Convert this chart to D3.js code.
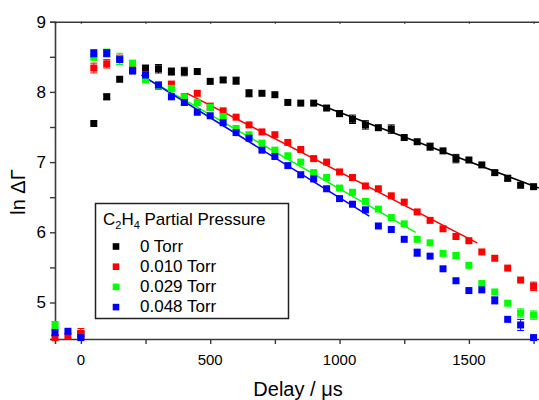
<!DOCTYPE html>
<html>
<head>
<meta charset="utf-8">
<script src="https://cdn.jsdelivr.net/npm/d3@7"></script>
<style>
  body { margin: 0; background: #fff; }
  #chart { width: 539px; height: 400px; }
  text { font-family: "Liberation Sans", Arial, sans-serif; fill: #000; }
</style>
</head>
<body>
<div id="chart"></div>
<script>

const delays = [-100, -50, 0, 50, 100, 150, 200, 250, 300, 350, 400, 450, 500, 550, 600,
  650, 700, 750, 800, 850, 900, 950, 1000, 1050, 1100, 1150, 1200, 1250, 1300, 1350,
  1400, 1450, 1500, 1550, 1600, 1650, 1700, 1750];

const seriesNames = ['0 Torr', '0.010 Torr', '0.029 Torr', '0.048 Torr'];
const seriesColors = ['#000000', '#ff0000', '#00ff00', '#0000ff'];

const torr0 = [null, null, 4.55, 7.55, 7.93, 8.18, 8.30, 8.34, 8.33, 8.29, 8.29, 8.29, 8.15, 8.17, 8.16,
  7.98, 7.98, 7.96, 7.85, 7.84, 7.84, 7.77, 7.69, 7.61, 7.53, 7.49, 7.47, 7.35, 7.29, 7.22,
  7.16, 7.05, 7.03, 6.96, 6.85, 6.77, 6.67, 6.65];
const torr010 = [4.50, 4.52, 4.56, 8.34, 8.40, 8.48, 8.36, 8.25, 8.08, 8.11, 7.93, 7.98, 7.79, 7.73, 7.64,
  7.53, 7.43, 7.39, 7.28, 7.18, 7.05, 7.00, 6.86, 6.78, 6.66, 6.62, 6.52, 6.43, 6.29, 6.17,
  6.05, 5.94, 5.88, 5.72, 5.63, 5.49, 5.32, 5.23];
const torr029 = [4.68, null, null, 8.50, 8.56, 8.47, 8.41, 8.17, 8.09, 8.05, 7.92, 7.85, 7.78, 7.65, 7.48,
  7.39, 7.27, 7.17, 7.09, 7.00, 6.85, 6.78, 6.63, 6.57, 6.44, 6.33, 6.21, 6.12, 5.90, 5.85,
  5.70, 5.67, 5.53, 5.27, 5.15, 4.99, 4.85, 4.82];
const torr048 = [4.57, 4.59, 4.50, 8.55, 8.55, 8.46, 8.30, 8.24, 8.10, 7.93, 7.85, 7.71, 7.66, 7.56, 7.42,
  7.34, 7.17, 7.08, 6.95, 6.82, 6.76, 6.62, 6.48, 6.40, 6.32, 6.09, 6.04, 5.90, 5.71, 5.66,
  5.48, 5.31, 5.17, 5.18, 5.03, 4.76, 4.68, 4.50];

// error bar half-widths (0 = hidden behind marker)
const err0 = [0, 0, 0.04, 0, 0.04, 0, 0, 0.03, 0.06, 0.05, 0.06, 0, 0, 0.03, 0.05,
  0.05, 0, 0, 0, 0, 0, 0, 0.04, 0.06, 0.06, 0, 0.06, 0, 0, 0.05,
  0, 0.06, 0, 0, 0.03, 0.04, 0, 0];
const err010 = [0, 0, 0.07, 0.07, 0.06, 0.04, 0, 0, 0, 0.04, 0, 0, 0.05, 0, 0,
  0, 0, 0, 0, 0, 0, 0, 0, 0, 0, 0, 0, 0, 0, 0,
  0, 0, 0, 0, 0, 0, 0, 0.06];
const err029 = [0.05, 0, 0, 0.05, 0.05, 0.08, 0, 0, 0, 0, 0, 0, 0, 0, 0,
  0, 0, 0, 0, 0, 0, 0, 0, 0, 0, 0, 0, 0, 0, 0,
  0, 0.04, 0, 0, 0, 0, 0.06, 0.06];
const err048 = [0.04, 0, 0, 0.05, 0.05, 0, 0, 0, 0, 0, 0.04, 0, 0, 0, 0,
  0, 0, 0, 0, 0, 0, 0, 0, 0, 0, 0, 0, 0, 0.05, 0,
  0, 0, 0, 0, 0.05, 0, 0.08, 0];

// linear fits, [[delay, ln] start, [delay, ln] end]
const fit0 = [[892, 7.86], [1770, 6.63]];
const fit010 = [[410, 7.98], [1532, 5.85]];
const fit029 = [[241, 8.22], [1294, 6.00]];
const fit048 = [[234, 8.24], [1115, 6.23]];

const xTicks = [0, 500, 1000, 1500];
const xMinorTicks = [250, 750, 1250, 1750];
const yTicks = [5, 6, 7, 8, 9];
const yMinorTicks = [5.5, 6.5, 7.5, 8.5];


const width = 539;
const height = 400;
const axisColor = '#3a3a3a';

const x = d3.scaleLinear().domain([-100, 1800]).range([55, 546.5]);
const y = d3.scaleLinear().domain([4.48, 9]).range([339, 21.7]);

const svg = d3.select('#chart')
  .append('svg')
  .attr('width', width)
  .attr('height', height);

const series = [torr0, torr010, torr029, torr048].map(function(values, i) {
  return {
    name: seriesNames[i],
    color: seriesColors[i],
    errors: [err0, err010, err029, err048][i],
    fit: [fit0, fit010, fit029, fit048][i],
    points: values.map(function(v, j) {
      return { x: delays[j], y: v, e: [err0, err010, err029, err048][i][j] };
    }).filter(d => d.y !== null)
  };
});


// axes
const xAxis = svg.append('g')
  .attr('transform', 'translate(0,' + y.range()[0] + ')')
  .call(d3.axisBottom(x).tickValues(xTicks.concat(xMinorTicks)).tickSize(5).tickFormat(''));
const xTop = svg.append('g')
  .attr('transform', 'translate(0,' + y.range()[1] + ')')
  .call(d3.axisBottom(x).tickValues(xTicks.concat(xMinorTicks)).tickSize(2).tickFormat(''));
const yAxis = svg.append('g')
  .attr('transform', 'translate(' + x.range()[0] + ',0)')
  .call(d3.axisLeft(y).tickValues(yTicks.concat(yMinorTicks)).tickSize(5).tickFormat(''));

[xAxis, xTop, yAxis].forEach(function(g) {
  g.select('.domain').attr('stroke', axisColor).attr('stroke-width', 1.6);
  g.selectAll('.tick line').attr('stroke', axisColor).attr('stroke-width', 1.4);
});

svg.selectAll('text.xtick')
  .data(xTicks)
  .enter()
  .append('text')
  .attr('class', 'xtick')
  .attr('x', d => x(d))
  .attr('y', 365)
  .attr('text-anchor', 'middle')
  .style('font-size', '15px')
  .text(d => d);

svg.selectAll('text.ytick')
  .data(yTicks)
  .enter()
  .append('text')
  .attr('class', 'ytick')
  .attr('x', 46)
  .attr('y', d => y(d))
  .attr('dy', '0.35em')
  .attr('text-anchor', 'end')
  .style('font-size', '17px')
  .text(d => d);

svg.append('text')
  .attr('x', 298)
  .attr('y', 396)
  .attr('text-anchor', 'middle')
  .style('font-size', '20px')
  .text('Delay  /\u00a0\u03bcs');

svg.append('text')
  .attr('transform', 'translate(25,192) rotate(-90)')
  .attr('text-anchor', 'middle')
  .style('font-size', '20px')
  .text('ln \u0394\u0393');


// fit lines
const line = d3.line().x(d => x(d[0])).y(d => y(d[1]));

svg.selectAll('path.fit')
  .data(series)
  .enter()
  .append('path')
  .attr('class', 'fit')
  .attr('d', d => line(d.fit))
  .style('fill', 'none')
  .style('stroke', d => d.color)
  .style('stroke-width', 1.5);


// error bars and markers
const groups = svg.selectAll('g.series')
  .data(series)
  .enter()
  .append('g')
  .attr('class', 'series');

const markerSize = 7;

groups.each(function(s) {
  const g = d3.select(this);
  const withErr = s.points.filter(d => d.e > 0);

  g.selectAll('line.err')
    .data(withErr)
    .enter()
    .append('line')
    .attr('x1', d => x(d.x))
    .attr('x2', d => x(d.x))
    .attr('y1', d => y(d.y - d.e))
    .attr('y2', d => y(d.y + d.e))
    .style('stroke', s.color)
    .style('stroke-width', 1);

  [-1, 1].forEach(function(sign) {
    g.selectAll('line.cap' + sign)
      .data(withErr)
      .enter()
      .append('line')
      .attr('x1', d => x(d.x) - 3.5)
      .attr('x2', d => x(d.x) + 3.5)
      .attr('y1', d => y(d.y + sign * d.e))
      .attr('y2', d => y(d.y + sign * d.e))
      .style('stroke', s.color)
      .style('stroke-width', 1);
  });

  g.selectAll('rect')
    .data(s.points)
    .enter()
    .append('rect')
    .attr('x', d => x(d.x) - markerSize / 2)
    .attr('y', d => y(d.y) - markerSize / 2)
    .attr('width', markerSize)
    .attr('height', markerSize)
    .style('fill', s.color);
});


// legend
const legend = svg.append('g').attr('class', 'legend');

legend.append('rect')
  .attr('x', 95.5)
  .attr('y', 203.5)
  .attr('width', 193)
  .attr('height', 115)
  .style('fill', '#fff')
  .style('stroke', '#222')
  .style('stroke-width', 1.5);

const title = legend.append('text')
  .attr('x', 103)
  .attr('y', 225)
  .style('font-size', '17px');
title.append('tspan').text('C');
title.append('tspan').attr('dy', 4).style('font-size', '11px').text('2');
title.append('tspan').attr('dy', -4).text('H');
title.append('tspan').attr('dy', 4).style('font-size', '11px').text('4');
title.append('tspan').attr('dy', -4).text(' Partial Pressure');

const items = legend.selectAll('g.item')
  .data(series)
  .enter()
  .append('g')
  .attr('class', 'item')
  .attr('transform', (d, i) => 'translate(0,' + (246.5 + i * 20.2) + ')');

items.append('rect')
  .attr('x', 116 - 3.3)
  .attr('y', -3.3)
  .attr('width', 6.6)
  .attr('height', 6.6)
  .style('fill', d => d.color);

items.append('text')
  .attr('x', 140)
  .attr('y', 5)
  .style('font-size', '17px')
  .text(d => d.name);

</script>
</body>
</html>
